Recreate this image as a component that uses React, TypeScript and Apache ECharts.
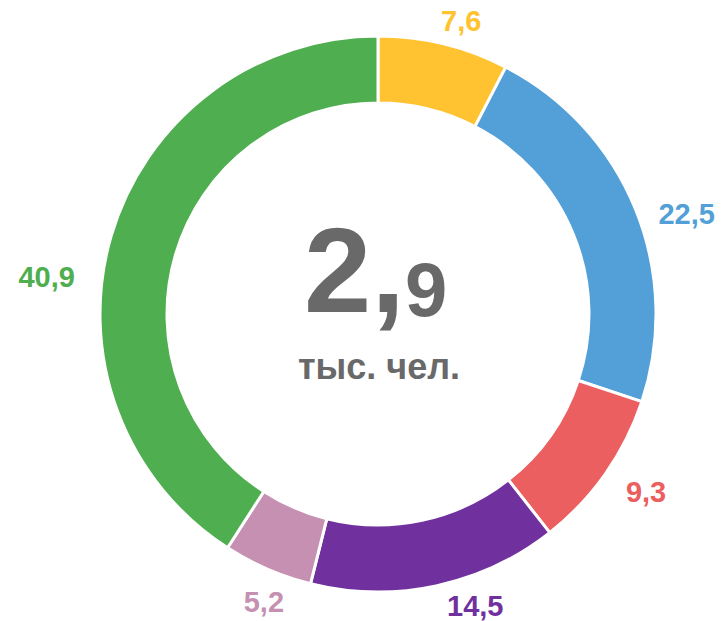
import React, { useEffect, useRef } from "react";
import * as echarts from "echarts";

const categories = ["A", "B", "C", "D", "E", "F"];
const values = [7.6, 22.5, 9.3, 14.5, 5.2, 40.9];
const colors = ["#FFC332", "#539FD8", "#EB5F60", "#70309E", "#C590B1", "#4FAE50"];
const totalInt = "2,";
const totalFrac = "9";
const unitLabel = "тыс. чел.";
// label placement nudges (styling only)
const labelNudges: [number, number][] = [
  [-11, -9],
  [5, 10],
  [4, 10],
  [3, 6],
  [27, 20],
  [-18, 45],
];

export default function App() {
  const ref = useRef<HTMLDivElement>(null);
  useEffect(() => {
    if (!ref.current) return;
    const chart = echarts.init(ref.current, undefined, { renderer: "svg" });
    const font = "'Liberation Sans', Arial, sans-serif";
    const grey = "#696969";
    chart.setOption({
      animation: false,
      backgroundColor: "#ffffff",
      graphic: [
        {
          type: "text",
          x: 405,
          y: 330,
          style: {
            text: totalInt,
            align: "right",
            verticalAlign: "bottom",
            fill: grey,
            fontFamily: font,
            fontWeight: "bold",
            fontSize: 121,
          },
        },
        {
          type: "text",
          x: 405,
          y: 327,
          style: {
            text: totalFrac,
            align: "left",
            verticalAlign: "bottom",
            fill: grey,
            fontFamily: font,
            fontWeight: "bold",
            fontSize: 76,
          },
        },
        {
          type: "text",
          x: 379,
          y: 366,
          style: {
            text: unitLabel,
            align: "center",
            verticalAlign: "middle",
            fill: grey,
            fontFamily: font,
            fontWeight: "bold",
            fontSize: 36,
          },
        },
      ],
      series: [
        {
          type: "pie",
          center: [378, 314],
          radius: [211, 278],
          startAngle: 90,
          clockwise: true,
          avoidLabelOverlap: false,
          itemStyle: { borderColor: "#ffffff", borderWidth: 3 },
          label: {
            show: true,
            position: "outside",
            formatter: (p: any) => String(p.value).replace(".", ","),
            fontFamily: font,
            fontWeight: "bold",
            fontSize: 29,
            lineHeight: 24,
          },
          labelLine: { show: false, length: 14, length2: 0 },
          labelLayout: (p: any) => {
            const n = labelNudges[p.dataIndex] || [0, 0];
            return { dx: n[0], dy: n[1] };
          },
          data: categories.map((c, i) => ({
            name: c,
            value: values[i],
            itemStyle: { color: colors[i] },
            label: { color: colors[i] },
          })),
        },
      ],
    });
    return () => chart.dispose();
  }, []);
  return <div ref={ref} style={{ position: "fixed", left: 0, top: 0, width: 721, height: 621 }} />;
}
